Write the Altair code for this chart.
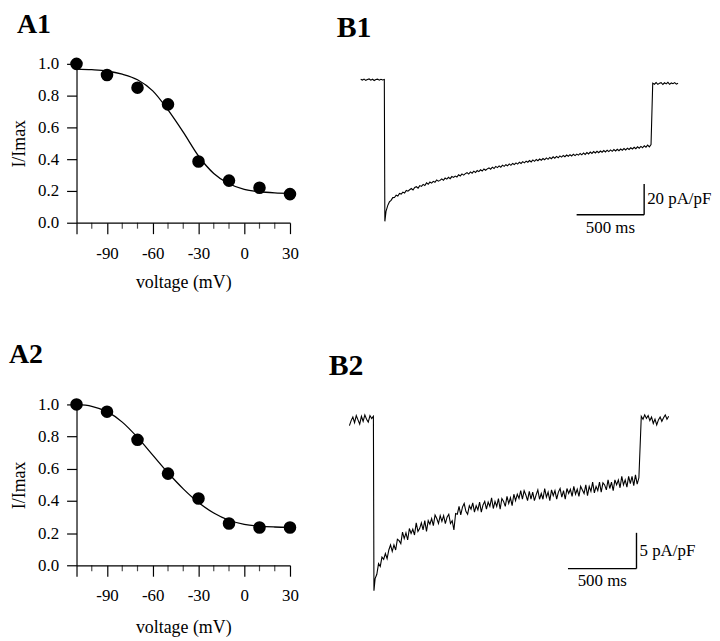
import altair as alt
import pandas as pd

FONT = "Liberation Serif"

# ---------------- A panels: relative current vs prepulse voltage ----------------
voltage = [-110, -90, -70, -50, -30, -10, 10, 30]
a1_rel = [1.0, 0.93, 0.85, 0.745, 0.385, 0.265, 0.22, 0.18]
a2_rel = [1.0, 0.955, 0.78, 0.57, 0.415, 0.26, 0.235, 0.235]

fit_voltage = [-110, -100, -90, -80, -70, -60, -50, -40, -30, -20, -10, 0, 10, 20, 30]
a1_fit = [0.967, 0.963, 0.955, 0.935, 0.90, 0.83, 0.71, 0.57, 0.42, 0.31, 0.245, 0.21, 0.195, 0.188, 0.185]
a2_fit = [1.0, 0.988, 0.955, 0.89, 0.795, 0.685, 0.575, 0.475, 0.39, 0.325, 0.28, 0.255, 0.243, 0.238, 0.236]

major_ticks = [-110, -90, -60, -30, 0, 30]
minor_ticks = [-100, -80, -70, -50, -40, -20, -10, 10, 20]
y_ticks = [0.0, 0.2, 0.4, 0.6, 0.8, 1.0]

# ---------------- B panels: current traces (pA/pF), sampled every 12.5 ms ----------------
SAMPLE_MS = 12.5

b1_pre_i = [0.3, -0.2, 0.4, -0.4, 0.1, 0.5, -0.3, 0.3, -0.5, 0.2, 0.4, -0.3, 0.3, -0.2, 0.1]
b1_pulse_i = [
    -92.0, -85.5, -81.8, -79.4, -78.4, -76.6, -76.5, -75.0, -75.6, -73.9,
    -74.3, -73.0, -73.6, -71.9, -72.4, -71.5, -70.7, -71.6, -70.0, -69.5,
    -70.4, -68.8, -69.3, -68.0, -68.7, -67.0, -67.9, -66.5, -67.2, -66.0,
    -66.6, -65.1, -65.9, -65.4, -64.4, -65.3, -63.9, -64.6, -63.4, -64.3,
    -62.9, -63.5, -62.6, -63.2, -61.7, -62.5, -61.2, -62.0, -61.0, -60.4,
    -61.3, -59.9, -60.7, -59.4, -60.3, -59.0, -59.7, -58.5, -59.3, -58.0,
    -58.8, -57.9, -57.3, -58.1, -56.8, -57.7, -56.3, -57.1, -56.0, -56.8,
    -55.5, -56.3, -55.2, -55.9, -54.7, -55.6, -54.4, -55.1, -54.0, -54.8,
    -53.6, -54.4, -53.2, -54.0, -52.9, -53.6, -52.5, -53.4, -52.1, -53.0,
    -51.8, -52.6, -51.5, -52.3, -51.2, -52.0, -50.8, -51.7, -50.5, -51.3,
    -50.1, -51.0, -49.8, -50.7, -49.5, -50.3, -49.2, -50.0, -48.9, -49.7,
    -48.7, -49.5, -48.4, -49.3, -48.3, -49.0, -47.9, -48.8, -47.6, -48.5,
    -47.3, -48.2, -47.0, -47.9, -46.7, -47.6, -46.5, -47.4, -46.3, -47.1,
    -46.0, -46.9, -45.8, -46.7, -45.6, -46.5, -45.4, -46.3, -45.2, -46.1,
    -45.0, -45.8, -44.7, -45.6, -44.5, -45.3, -44.2, -45.0, -43.9, -44.8,
    -43.6, -44.5, -43.3, -44.2, -42.9, -43.8, -42.5, -43.6, -42.1,
]
b1_post_i = [-2.2, -2.9, -1.8, -3.0, -2.3, -1.9, -3.1, -2.0, -2.7, -1.7, -3.0, -2.1, -2.6, -1.9, -2.9, -2.3]
b1_post_start = 1987.5

b2_pre_i = [-0.6, 0.1, 0.6, -0.2, 0.8, 0.2, -0.4, 0.7, 0.0, 0.9, 0.3, -0.1, 0.8, 0.4, 0.7]
b2_pulse_i = [
    -23.7, -22.0, -21.4, -19.9, -20.3, -19.0, -19.3, -18.5, -19.2, -18.0,
    -17.3, -18.2, -17.3, -18.0, -16.5, -16.7, -17.1, -15.5, -16.4, -15.6,
    -16.6, -15.0, -15.7, -15.1, -15.9, -14.2, -15.4, -15.0, -14.2, -15.2,
    -13.9, -15.4, -13.9, -14.4, -13.6, -14.6, -13.1, -13.6, -14.3, -13.2,
    -14.0, -13.2, -14.3, -13.4, -13.0, -14.3, -13.9, -15.2, -12.9, -13.0,
    -11.9, -13.1, -12.0, -11.5, -12.6, -13.0, -11.8, -12.3, -11.4, -12.7,
    -11.8, -12.4, -11.3, -12.7, -11.7, -11.2, -12.3, -11.3, -11.9, -10.7,
    -12.2, -11.2, -11.9, -10.8, -12.3, -10.8, -11.2, -11.9, -10.5, -11.5,
    -10.7, -11.8, -10.2, -11.1, -10.2, -10.8, -9.7, -10.9, -9.7, -10.3,
    -11.1, -9.8, -10.9, -9.9, -11.1, -10.3, -9.6, -10.9, -10.1, -10.9,
    -9.4, -10.6, -9.9, -11.1, -9.6, -10.4, -9.7, -10.9, -9.9, -9.4,
    -10.6, -9.7, -10.9, -9.4, -10.1, -9.5, -10.5, -9.1, -10.2, -9.5,
    -10.5, -9.1, -9.6, -10.1, -8.9, -10.4, -9.1, -9.8, -8.5, -10.0,
    -9.1, -9.7, -8.5, -9.9, -8.6, -8.9, -9.6, -8.2, -9.4, -8.5,
    -9.7, -8.2, -8.9, -8.2, -9.3, -7.7, -8.9, -8.2, -9.2, -7.7,
    -8.7, -7.7, -9.0, -7.5, -8.8, -7.9,
]
b2_post_i = [0.7, 0.3, 0.9, 0.4, 0.8, 0.1, 0.6, -0.3, 0.3, -0.5, 0.2, 0.6, 0.0, 0.5, 0.9, 0.3, 0.7]
b2_post_start = 1955.0


def trace_frame(pre_i, pulse_i, post_i, post_start):
    n_pre = len(pre_i)
    pre_t = [SAMPLE_MS * (k - n_pre + 1) for k in range(n_pre)]
    pulse_t = [4.0] + [SAMPLE_MS * k for k in range(1, len(pulse_i))]
    post_t = [post_start + SAMPLE_MS * k for k in range(len(post_i))]
    t = pre_t + pulse_t + post_t
    i = pre_i + pulse_i + post_i
    return pd.DataFrame({"t": t, "i": i, "k": list(range(len(t)))})


def a_panel(rel, fit, label, height, title_dx, title_offset, lab_pad, tit_pad):
    pts = pd.DataFrame({"v": voltage, "r": rel})
    crv = pd.DataFrame({"v": fit_voltage, "r": fit})
    minor = pd.DataFrame({"v": minor_ticks})
    xs = alt.Scale(domain=[-110, 30], nice=False, zero=False)
    ys = alt.Scale(domain=[0, 1], nice=False, zero=False)
    xax = alt.Axis(
        values=major_ticks,
        labelExpr="datum.value % 30 === 0 ? toString(datum.value) : ''",
        tickSize=11, labelPadding=lab_pad, title="voltage (mV)", titlePadding=tit_pad,
        labelOverlap=False, labelFlush=False,
    )
    yax = alt.Axis(values=y_ticks, format=".1f", tickSize=10, labelPadding=8,
                   title="I/Imax", titlePadding=9, labelOverlap=False, labelFlush=False)
    curve = alt.Chart(crv).mark_line(color="black", strokeWidth=1.3, interpolate="monotone").encode(
        x=alt.X("v:Q", scale=xs, axis=xax),
        y=alt.Y("r:Q", scale=ys, axis=yax),
    )
    dots = alt.Chart(pts).mark_circle(size=160, color="black", opacity=1).encode(
        x=alt.X("v:Q", scale=xs, axis=xax),
        y=alt.Y("r:Q", scale=ys, axis=yax),
    )
    ticks = alt.Chart(minor).mark_tick(orient="vertical", size=6, thickness=1.2, color="black", yOffset=3).encode(
        x=alt.X("v:Q", scale=xs, axis=xax),
        y=alt.YDatum(0, scale=ys, axis=yax),
    )
    return alt.layer(curve, dots, ticks).properties(
        width=215, height=height,
        title=alt.TitleParams(text=label, anchor="start", frame="group", font=FONT, fontSize=28,
                              fontWeight="bold", dx=title_dx, offset=title_offset),
    )


def b_panel(tr, xdom, ydom, height, label, bar_t0, bar_i0, bar_di, bar_text, title_dx, title_offset):
    xs = alt.Scale(domain=xdom, nice=False, zero=False)
    ys = alt.Scale(domain=ydom, nice=False, zero=False)
    line = alt.Chart(tr).mark_line(color="black", strokeWidth=1.1).encode(
        x=alt.X("t:Q", scale=xs, axis=None),
        y=alt.Y("i:Q", scale=ys, axis=None),
        order="k:Q",
    )
    bar = pd.DataFrame({
        "t0": [bar_t0], "t1": [bar_t0 + 500], "tm": [bar_t0 + 250],
        "i0": [bar_i0], "i1": [bar_i0 + bar_di], "im": [bar_i0 + bar_di / 2],
        "lab_i": [bar_text], "lab_t": ["500 ms"],
    })
    hbar = alt.Chart(bar).mark_rule(color="black", strokeWidth=1.4).encode(x="t0:Q", x2="t1", y="i0:Q")
    vbar = alt.Chart(bar).mark_rule(color="black", strokeWidth=1.4).encode(x="t1:Q", y="i0:Q", y2="i1")
    ilab = alt.Chart(bar).mark_text(align="left", baseline="middle", dx=3, font=FONT, fontSize=17,
                                    color="black").encode(x="t1:Q", y="im:Q", text="lab_i:N")
    tlab = alt.Chart(bar).mark_text(align="center", baseline="top", dy=5, font=FONT, fontSize=17,
                                    color="black").encode(x="tm:Q", y="i0:Q", text="lab_t:N")
    return alt.layer(line, hbar, vbar, ilab, tlab).properties(
        width=345, height=height,
        title=alt.TitleParams(text=label, anchor="start", frame="group", font=FONT, fontSize=30,
                              fontWeight="bold", dx=title_dx, offset=title_offset),
    )


A1 = a_panel(a1_rel, a1_fit, "A1", 160, -60, 16, 12, 12)
A2 = a_panel(a2_rel, a2_fit, "A2", 162, -68, 27, 11, 16)
B1 = b_panel(trace_frame(b1_pre_i, b1_pulse_i, b1_post_i, b1_post_start),
             [-338.2, 2198.5], [-92.9, 10.32], 160, "B1",
             1424, -87.7, 20, "20 pA/pF", -2, 21)
B2 = b_panel(trace_frame(b2_pre_i, b2_pulse_i, b2_post_i, b2_post_start),
             [-253.6, 2246.4], [-20.14, 2.36], 162, "B2",
             1420, -20.6, 5, "5 pA/pF", -10, 24)

chart = alt.concat(
    A1, B1, A2, B2, columns=2,
    spacing=alt.RowColnumber(row=183, column=49),
    bounds="flush", align="each", padding=0,
).configure_view(stroke="transparent").configure_axis(
    grid=False, domainColor="black", tickColor="black", labelColor="black", titleColor="black",
    labelFont=FONT, titleFont=FONT, labelFontSize=17, titleFontSize=18, titleFontWeight="normal",
    domainWidth=1.2, tickWidth=1.2,
)

chart.save("out.html", embed_options={"renderer": "svg", "actions": False})
